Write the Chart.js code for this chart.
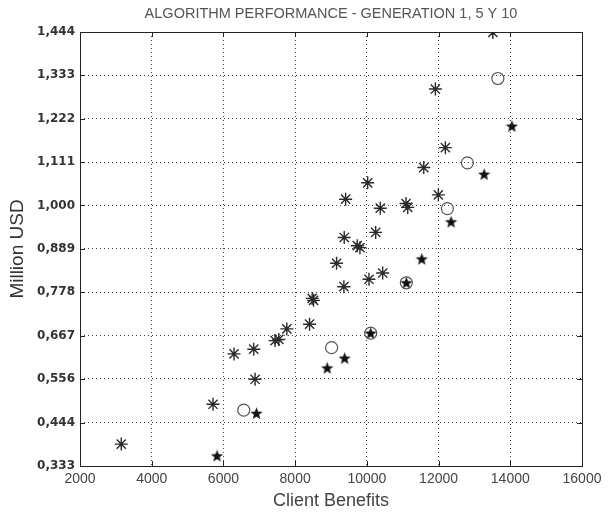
<!DOCTYPE html>
<html>
<head>
<meta charset="utf-8">
<script src="https://cdn.jsdelivr.net/npm/chart.js@4"></script>
<style>
  html, body { margin: 0; padding: 0; background: #fff; }
  #wrap { width: 608px; height: 514px; }
</style>
</head>
<body>
<div id="wrap"><canvas id="perfChart" width="608" height="514"></canvas></div>
<script>
// ── data ─────────────────────────────────────────────────
// generation 1 (asterisks)
const gen1X = [3151, 5709, 6296, 6846, 6883, 7441, 7545, 7768, 8402, 8475, 8514, 9156, 9360, 10059, 10441,
               9369, 9732, 9807, 10246, 9408, 10374, 11092, 11140, 10022, 11994, 11587, 12190, 11911, 13514];
const gen1Y = [0.389, 0.491, 0.620, 0.632, 0.555, 0.654, 0.657, 0.684, 0.696, 0.762, 0.757, 0.852, 0.792, 0.811, 0.827,
               0.918, 0.897, 0.892, 0.931, 1.016, 0.993, 1.005, 0.995, 1.058, 1.027, 1.097, 1.148, 1.298, 1.443];
// generation 5 (circles)
const gen5X = [6567, 9017, 10106, 11101, 12246, 12804, 13654];
const gen5Y = [0.476, 0.636, 0.673, 0.802, 0.992, 1.109, 1.325];
// generation 10 (filled stars)
const gen10X = [5821, 6922, 8894, 9380, 10106, 11101, 11531, 12349, 13271, 14045];
const gen10Y = [0.359, 0.468, 0.584, 0.609, 0.673, 0.802, 0.863, 0.958, 1.080, 1.203];

const xTicks = [2000, 4000, 6000, 8000, 10000, 12000, 14000, 16000];
const yTicks = [0.333, 0.444, 0.556, 0.667, 0.778, 0.889, 1.000, 1.111, 1.222, 1.333, 1.444];

// ── helpers ──────────────────────────────────────────────
const toPoints = (xs, ys) => xs.map((x, i) => ({ x, y: ys[i] }));

// filled five-pointed star marker
function makeStar(size) {
  const c = document.createElement('canvas');
  c.width = size; c.height = size;
  const g = c.getContext('2d');
  const cx = size / 2, cy = size / 2 + 0.5, ro = size / 2, ri = ro * 0.42;
  g.beginPath();
  for (let i = 0; i < 10; i++) {
    const r = i % 2 === 0 ? ro : ri;
    const a = -Math.PI / 2 + i * Math.PI / 5;
    const px = cx + r * Math.cos(a), py = cy + r * Math.sin(a);
    i === 0 ? g.moveTo(px, py) : g.lineTo(px, py);
  }
  g.closePath();
  g.fillStyle = '#111';
  g.fill();
  return c;
}

// box round the plot with inward tick marks (MATLAB look)
const boxPlugin = {
  id: 'box',
  afterDatasetsDraw(chart) {
    const { ctx, chartArea: a, scales } = chart;
    ctx.save();
    ctx.strokeStyle = '#222';
    ctx.lineWidth = 1;
    ctx.strokeRect(a.left + 0.5, a.top + 0.5, a.right - a.left, a.bottom - a.top);
    ctx.beginPath();
    const len = 5;
    xTicks.forEach(v => {
      const px = Math.round(scales.x.getPixelForValue(v)) + 0.5;
      ctx.moveTo(px, a.bottom); ctx.lineTo(px, a.bottom - len);
      ctx.moveTo(px, a.top); ctx.lineTo(px, a.top + len);
    });
    yTicks.forEach(v => {
      const py = Math.round(scales.y.getPixelForValue(v)) + 0.5;
      ctx.moveTo(a.left, py); ctx.lineTo(a.left + len, py);
      ctx.moveTo(a.right, py); ctx.lineTo(a.right - len, py);
    });
    ctx.stroke();
    ctx.restore();
  }
};

const gridStyle = {
  color: '#444',
  lineWidth: 1,
  drawTicks: false,
};

new Chart(document.getElementById('perfChart'), {
  type: 'scatter',
  data: {
    datasets: [
      {
        label: 'Generation 1',
        data: toPoints(gen1X, gen1Y),
        pointStyle: 'star',
        pointRadius: 6.5,
        borderColor: '#2a2a2a',
        backgroundColor: '#2a2a2a',
        pointBorderWidth: 1.4,
      },
      {
        label: 'Generation 5',
        data: toPoints(gen5X, gen5Y),
        pointStyle: 'circle',
        pointRadius: 6,
        borderColor: '#555',
        backgroundColor: 'rgba(0,0,0,0)',
        pointBorderWidth: 1.2,
      },
      {
        label: 'Generation 10',
        data: toPoints(gen10X, gen10Y),
        pointStyle: makeStar(13),
        pointRadius: 6,
      }
    ]
  },
  options: {
    responsive: false,
    animation: false,
    layout: { padding: { left: 0, right: 26, top: 0, bottom: 0 } },
    plugins: {
      legend: { display: false },
      tooltip: { enabled: false },
      title: {
        display: true,
        fullSize: false,
        text: 'ALGORITHM PERFORMANCE - GENERATION 1, 5 Y 10',
        color: '#555',
        font: { family: 'Liberation Sans', size: 14.5, weight: 'normal' },
        padding: { top: 5, bottom: 9.6 }
      }
    },
    scales: {
      x: {
        type: 'linear',
        min: 2000,
        max: 16000,
        afterBuildTicks: s => { s.ticks = xTicks.map(v => ({ value: v })); },
        afterFit: s => { s.height = 48; },
        ticks: {
          color: '#444',
          padding: 5,
          maxRotation: 0,
          font: { family: 'Liberation Sans', size: 14 },
          callback: v => String(v)
        },
        grid: { ...gridStyle },
        border: { display: false, dash: [1, 3] },
        title: {
          display: true,
          text: 'Client Benefits',
          color: '#444',
          font: { family: 'Liberation Sans', size: 18 },
          padding: { top: 0, bottom: 2 }
        }
      },
      y: {
        type: 'linear',
        min: 0.333,
        max: 1.444,
        afterBuildTicks: s => { s.ticks = yTicks.map(v => ({ value: v })); },
        afterFit: s => { s.width = 80; },
        ticks: {
          color: '#333',
          padding: 5,
          font: { family: 'DejaVu Sans', size: 12, weight: 'bold' },
          callback: v => v.toFixed(3).replace('.', ',')
        },
        grid: { ...gridStyle },
        border: { display: false, dash: [1, 3] },
        title: {
          display: true,
          text: 'Million USD',
          color: '#333',
          font: { family: 'Liberation Sans', size: 19 },
          padding: { top: 6, bottom: 0 }
        }
      }
    }
  },
  plugins: [boxPlugin]
});
</script>
</body>
</html>
